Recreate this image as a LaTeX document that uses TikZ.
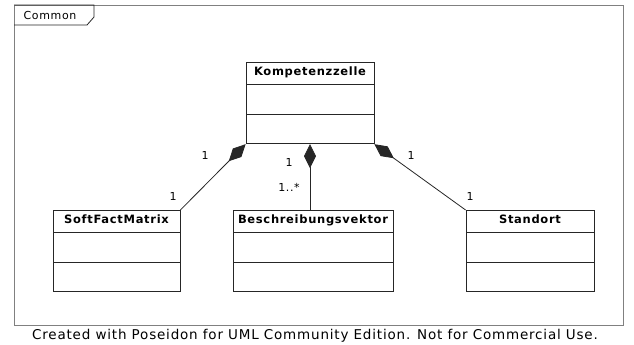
\documentclass[tikz,border=0pt]{standalone}
\usepackage{fontspec}
\setmainfont{DejaVu Sans}
\newfontfamily\classfont{DejaVu Sans}[LetterSpace=6]
\newfontfamily\labelfont{DejaVu Sans}[LetterSpace=6]
\usetikzlibrary{shapes.multipart,arrows.meta}

\tikzset{
    umlclass/.style={rectangle split, rectangle split parts=3, draw=black!85,
        line width=0.8pt, anchor=north, minimum width=#1, inner ysep=4pt,
        rectangle split empty part height=21pt, rectangle split empty part depth=0pt,
        font=\classfont\bfseries\fontsize{11.5}{13}\selectfont},
    composition/.style={draw=black!85, line width=0.8pt, -{Diamond[length=24pt,width=12pt]}},
    mult/.style={font=\labelfont\fontsize{11}{13}\selectfont, inner sep=0pt},
}
\newcommand{\hdstrut}{\rule[-4pt]{0pt}{13pt}}

\begin{document}
\begin{tikzpicture}[x=1pt,y=-1pt]
        \useasboundingbox (0,0) rectangle (634,345);

        % Package frame
        \draw[gray, line width=0.8pt] (14,5) rectangle (623,325);
        \draw[black!85, line width=0.8pt] (14,5) -- (94,5) -- (94,17) -- (87,25) -- (14,25);
        \node[mult] (pkg) at (50,15) {Common};

        % Define nodes
        \node[umlclass=128pt] (kz) at (310,62) {\hdstrut Kompetenzzelle};
        \node[umlclass=127pt] (sfm) at (116.5,210) {\hdstrut SoftFactMatrix};
        \node[umlclass=160pt] (bv) at (313,210) {\hdstrut Beschreibungsvektor};
        \node[umlclass=128pt] (st) at (530,210) {\hdstrut Standort};

        % Draw composition edges
        \draw[composition] (sfm.north east) -- (kz.south west);
        \draw[composition] (bv.north -| kz.south) -- (kz.south);
        \draw[composition] (st.north west) -- (kz.south east);

        % Multiplicities
        \node[mult] (m1) at (205,155) {1};
        \node[mult] (m2) at (173,196) {1};
        \node[mult] (m3) at (289,162) {1};
        \node[mult] (m4) at (289,187) {1..*};
        \node[mult] (m5) at (411,155) {1};
        \node[mult] (m6) at (470,196) {1};

        \node[font=\labelfont\fontsize{13.5}{15}\selectfont, inner sep=0pt] (credit) at (315,336)
            {Created with Poseidon for UML Community Edition. Not for Commercial Use.};
    \end{tikzpicture}
\end{document}
